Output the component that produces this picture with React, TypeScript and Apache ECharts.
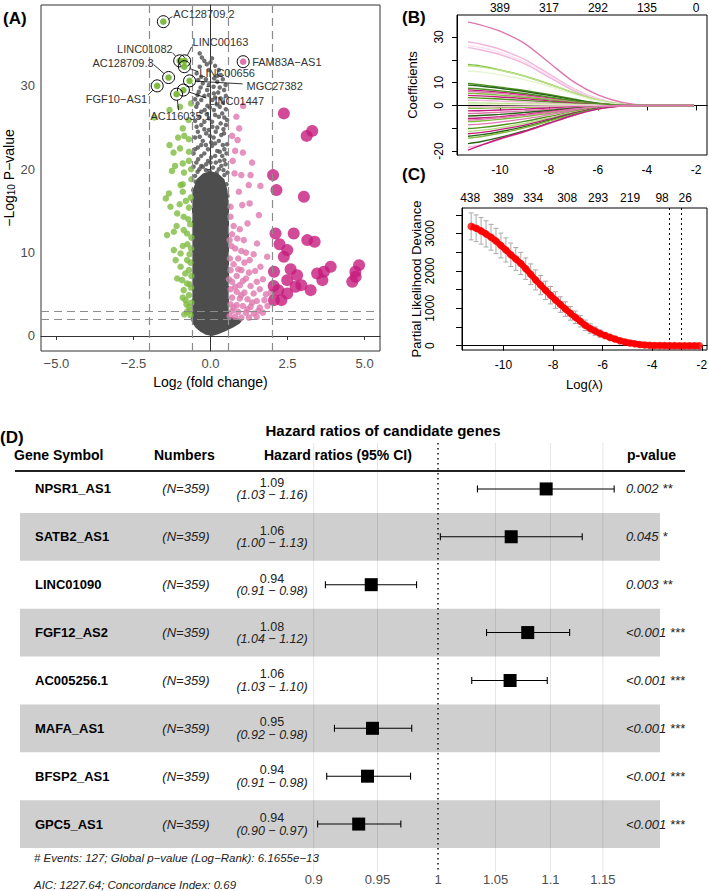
import React, { useEffect, useRef } from 'react';
import * as echarts from 'echarts';

const FONT = '"Liberation Sans", Arial, Helvetica, sans-serif';
const MINUS = '\u2212';

// ---------------- Panel A: volcano ----------------
const CORE_ENVELOPE: [number, number][] = [
  [-0.6, 2.5], [-0.64, 2.0], [-0.58, 1.5], [-0.48, 1.0], [-0.33, 0.5], [-0.15, 0.15], [0.05, 0.0],
  [0.25, 0.2], [0.5, 0.6], [0.75, 1.05], [0.95, 1.5], [1.05, 1.95], [0.85, 2.15], [0.6, 2.3],
  [0.6, 15.5], [0.55, 17.5], [0.45, 18.8], [0.25, 19.5], [0.0, 19.8], [-0.25, 19.5], [-0.45, 18.8],
  [-0.57, 17.5], [-0.6, 15.5],
];
const GRAY_PTS: [number, number][] = [
  [-0.35, 33.9], [-0.2, 33.0], [-0.35, 32.3], [-0.05, 31.9], [0.27, 31.9], [-0.3, 31.1], [0.12, 30.9],
  [0.33, 31.3], [-0.25, 30.3], [-0.05, 30.1], [0.22, 30.5], [0.49, 30.1], [-0.38, 29.3], [-0.11, 29.5],
  [0.11, 29.1], [0.44, 29.5], [-0.3, 28.3], [0.06, 28.3], [0.33, 28.5], [-0.46, 27.5], [-0.19, 27.1],
  [0.11, 27.1], [0.38, 26.7], [-0.36, 26.3], [-0.05, 26.1], [0.27, 26.3], [0.54, 25.9], [-0.3, 25.3],
  [0.06, 25.1], [0.33, 25.5], [-0.41, 24.5], [-0.14, 24.3], [0.17, 24.5], [0.44, 24.3], [-0.25, 23.4],
  [0.02, 23.2], [0.27, 23.4], [0.54, 23.0], [-0.41, 22.6], [-0.08, 22.4], [0.22, 22.2], [-0.3, 21.6],
  [0.02, 21.4], [0.38, 21.6], [-0.46, 20.8], [-0.14, 20.6], [0.17, 20.8], [0.49, 20.6], [-0.36, 20.0],
  [-0.03, 19.8], [0.27, 20.0], [-0.5, 19.2], [0.45, 19.3], [-0.2, 28.8], [0.2, 27.8], [-0.1, 27.6],
  [0.5, 27.2], [-0.5, 25.8], [0.15, 26.5], [-0.2, 25.7], [0.42, 24.8], [-0.05, 24.7], [-0.5, 23.8],
  [0.1, 23.8], [-0.15, 22.9], [0.45, 22.4], [-0.55, 21.9], [0.3, 21.0], [-0.25, 20.3], [0.08, 20.2],
  [0.55, 19.6], [-0.48, 18.5], [0.52, 18.2], [-0.56, 17.5], [0.55, 16.8], [0.56, 15.5], [-0.57, 16.2],
  [0.0, 32.8], [0.15, 32.4], [-0.45, 31.5], [0.4, 28.0], [-0.42, 28.9], [0.3, 29.8],
  [-0.28, 33.4], [-0.12, 32.6], [0.05, 33.3], [0.22, 31.2], [-0.4, 30.7], [0.4, 30.8], [-0.15, 30.8],
  [0.1, 29.9], [-0.32, 29.8], [0.25, 29.2], [-0.05, 28.9], [0.5, 28.8], [-0.5, 28.4], [0.15, 28.6],
  [-0.42, 27.9], [-0.02, 27.4], [0.3, 27.5], [-0.3, 26.9], [0.45, 26.2], [-0.12, 26.6], [0.05, 25.7],
  [-0.45, 25.1], [0.22, 25.0], [0.5, 25.3], [-0.2, 24.8], [0.35, 24.1], [-0.35, 23.9], [-0.02, 24.0],
  [0.15, 23.1], [-0.3, 22.9], [0.4, 22.9], [-0.5, 22.4], [0.05, 22.8], [0.3, 22.1], [-0.2, 21.9],
  [0.52, 21.9], [-0.4, 21.2], [0.15, 21.6], [-0.08, 21.0], [0.45, 21.1], [-0.3, 20.4], [0.35, 20.4],
  [-0.55, 20.3], [0.0, 20.8], [-0.15, 19.9], [0.2, 19.6], [0.42, 19.9], [-0.42, 19.7],
];
const GREEN_PTS: [number, number][] = [
  [-1.82, 26.2], [-1.33, 27.1], [-0.99, 27.5], [-0.63, 27.9], [-0.9, 24.9], [-0.71, 25.9], [-0.85, 24.0],
  [-0.7, 23.6], [-1.33, 22.9], [-0.99, 22.5], [-0.7, 22.1], [-1.2, 22.0], [-0.9, 20.7], [-0.7, 21.0],
  [-1.15, 20.4], [-0.86, 19.6], [-0.63, 20.0], [-1.35, 17.1], [-0.97, 18.1], [-0.9, 18.2], [-0.9, 17.3],
  [-1.3, 15.5], [-1.08, 14.7], [-0.87, 14.3], [-0.7, 15.4], [-1.41, 12.1], [-1.19, 12.5], [-0.87, 12.7],
  [-0.76, 12.3], [-1.19, 10.3], [-0.97, 9.9], [-1.13, 9.1], [-0.76, 9.1], [-0.97, 8.3], [-0.7, 7.9],
  [-1.08, 6.9], [-0.92, 6.7], [-0.76, 6.3], [-0.87, 5.5], [-0.7, 4.9], [-0.81, 4.3], [-0.7, 3.5],
  [-0.76, 2.9], [-0.65, 2.5], [-0.62, 4.0], [-0.63, 5.8], [-0.62, 7.2], [-0.65, 8.8], [-0.63, 10.5],
  [-0.62, 11.8], [-0.66, 13.4], [-0.64, 16.6], [-0.62, 18.8], [-0.8, 16.2], [-1.0, 15.8], [-1.1, 13.2],
  [-0.75, 11.0], [-0.9, 10.8], [-0.82, 7.5], [-0.68, 6.2], [-0.9, 4.6], [-0.66, 3.1], [-0.78, 3.8],
  [-1.25, 19.8], [-1.05, 23.8], [-1.45, 16.5], [-0.68, 9.8], [-0.72, 14.0], [-0.85, 2.6],
];
const PINK_PTS: [number, number][] = [
  [1.06, 27.6], [0.84, 26.3], [0.93, 24.9], [0.7, 24.0], [0.88, 23.5], [0.8, 22.2], [1.05, 22.0],
  [0.72, 21.0], [1.35, 20.8], [0.78, 19.5], [1.0, 19.3], [1.3, 19.3], [0.92, 17.3], [1.24, 18.1],
  [1.62, 18.0], [1.03, 15.7], [1.27, 15.9], [1.57, 14.5], [0.65, 15.5], [0.65, 14.3], [0.75, 13.2],
  [0.87, 11.7], [1.08, 11.5], [1.51, 11.1], [1.84, 9.5], [1.62, 8.3], [1.0, 10.2], [1.27, 9.1],
  [0.95, 12.8], [1.2, 13.5], [0.7, 12.2], [0.8, 10.5], [1.15, 10.0], [1.4, 9.8], [0.68, 10.8],
  [0.9, 9.3], [1.1, 8.8], [1.45, 7.8], [0.75, 8.6], [1.0, 7.9], [1.25, 7.6], [0.65, 7.9], [0.85, 7.2],
  [1.15, 6.9], [1.5, 6.5], [1.7, 6.8], [0.7, 6.5], [0.95, 6.1], [1.3, 6.0], [1.6, 5.6], [0.65, 5.6],
  [0.85, 5.3], [1.1, 5.2], [1.4, 5.1], [1.8, 5.0], [1.95, 5.2], [0.7, 4.6], [0.95, 4.5], [1.2, 4.4],
  [1.5, 4.2], [1.75, 4.3], [0.65, 3.8], [0.85, 3.7], [1.05, 3.6], [1.3, 3.5], [1.6, 3.4], [1.85, 3.6],
  [0.7, 3.0], [0.9, 2.9], [1.15, 2.8], [1.4, 2.7], [1.7, 2.8], [0.62, 2.4], [0.8, 2.3], [1.0, 2.2],
  [1.25, 2.2], [1.5, 2.3], [0.75, 3.4], [1.2, 3.2], [1.0, 4.9], [1.35, 4.0], [0.6, 6.8], [1.05, 6.6],
  [0.8, 5.9], [0.63, 9.3], [0.62, 11.5], [1.55, 3.0], [0.9, 8.0],
];
const MAGENTA_PTS: [number, number][] = [
  [2.38, 26.7], [3.3, 24.6], [3.12, 24.0], [2.03, 19.3], [2.14, 17.5], [3.03, 16.7], [2.11, 12.3],
  [2.7, 12.3], [3.14, 11.5], [3.38, 11.3], [2.24, 11.0], [2.49, 10.3], [2.38, 9.5], [2.06, 7.7],
  [2.49, 6.7], [2.81, 7.3], [2.76, 5.9], [2.49, 5.1], [3.25, 5.5], [3.46, 7.5], [3.68, 7.7], [3.9, 8.3],
  [3.63, 6.7], [4.82, 8.5], [4.7, 7.7], [4.71, 7.1], [4.6, 6.5], [2.2, 5.5], [2.06, 4.3], [2.3, 4.3],
  [2.05, 6.0], [2.6, 8.0], [2.95, 6.1],
];
const LABEL_GENES = ['AC128709.2', 'LINC01082', 'LINC00163', 'AC128709.3', 'FAM83A\u2212AS1', 'LINC00656', 'MGC27382', 'FGF10\u2212AS1', 'LINC01447', 'AC116035.1'];
const LABEL_X = [-1.53, -1.0, -0.84, -1.36, 1.06, -0.85, -0.68, -1.73, -0.88, -1.1];
const LABEL_Y = [37.7, 33.0, 33.0, 31.0, 32.9, 32.3, 30.6, 30.0, 29.5, 29.0];
const A_VLINES = [-2, -0.585, 0.585, 2];
const A_HLINES = [2, 3];
const A_XTICKS = [-5, -2.5, 0, 2.5, 5];
const A_YTICKS = [0, 10, 20, 30];

// label placement (pixels relative to point)
const LABEL_LAYOUT = [
  { dx: 10, dy: -8, align: 'left', sx: 9, sy: -5 },
  { dx: -7, dy: -12, align: 'right', sx: -7, sy: -8 },
  { dx: 8, dy: -19, align: 'left', sx: 7, sy: -14 },
  { dx: -15, dy: -15, align: 'right', sx: -15, sy: -13 },
  { dx: 9, dy: 0, align: 'left', sx: 0, sy: 0 },
  { dx: 15, dy: 6, align: 'left', sx: 14, sy: 5 },
  { dx: 57, dy: 5, align: 'left', sx: 53, sy: 3 },
  { dx: -10, dy: 13, align: 'right', sx: -9, sy: 9 },
  { dx: 25, dy: 11, align: 'left', sx: 23, sy: 8 },
  { dx: 4, dy: 22, align: 'center', sx: 2, sy: 16 },
];

// ---------------- Panel B: coefficient paths ----------------
const B_LAMBDA = [-11.3, -10.8, -10, -9, -8, -7, -6, -5, -4, -2.1];
const B_PATHS: number[][] = [
  [36.5, 35.3, 32.5, 27.2, 18.8, 10.4, 4.6, 1.3, 0.1, 0],
  [27.8, 26.9, 24.6, 20.2, 13.8, 7.4, 3.0, 0.6, 0, 0],
  [26.2, 25.4, 23.2, 19.1, 13.1, 7.0, 2.7, 0.5, 0, 0],
  [25.3, 24.4, 22.3, 18.3, 12.4, 6.5, 2.4, 0.4, 0, 0],
  [17.9, 17.3, 15.6, 12.9, 9.4, 5.5, 2.2, 0.4, 0, 0],
  [17.4, 16.9, 15.4, 12.8, 9.4, 5.7, 2.4, 0.5, 0, 0],
  [15.1, 14.7, 13.4, 11.3, 8.4, 5.0, 2.0, 0.3, 0, 0],
  [9.6, 9.1, 8.0, 6.6, 4.8, 2.8, 1.0, 0.1, 0, 0],
  [8.9, 8.5, 7.5, 6.1, 4.4, 2.5, 0.9, 0.1, 0, 0],
  [6.8, 6.5, 5.8, 4.7, 3.3, 1.9, 0.7, 0.1, 0, 0],
  [6.1, 5.9, 5.3, 4.2, 3.0, 1.7, 0.6, 0.1, 0, 0],
  [5.3, 5.1, 4.5, 3.6, 2.5, 1.4, 0.5, 0, 0, 0],
  [4.4, 4.2, 3.7, 3.0, 2.0, 1.1, 0.4, 0, 0, 0],
  [3.4, 3.2, 2.8, 2.2, 1.5, 0.8, 0.3, 0, 0, 0],
  [2.3, 2.2, 1.9, 1.5, 1.0, 0.5, 0.2, 0, 0, 0],
  [1.1, 1.0, 0.9, 0.7, 0.5, 0.3, 0.1, 0, 0, 0],
  [-1.2, -1.2, -1.0, -0.8, -0.6, -0.3, -0.1, 0, 0, 0],
  [-2.4, -2.3, -2.0, -1.6, -1.1, -0.6, -0.2, 0, 0, 0],
  [-3.5, -3.4, -3.0, -2.4, -1.7, -0.9, -0.3, 0, 0, 0],
  [-4.6, -4.4, -3.9, -3.1, -2.2, -1.2, -0.4, 0, 0, 0],
  [-5.7, -5.5, -4.9, -3.9, -2.7, -1.5, -0.5, 0, 0, 0],
  [-7.1, -6.8, -6.1, -4.9, -3.4, -1.9, -0.6, 0, 0, 0],
  [-8.5, -8.2, -7.3, -5.9, -4.1, -2.2, -0.8, -0.1, 0, 0],
  [-10.1, -9.7, -8.7, -7.0, -4.9, -2.7, -0.9, -0.1, 0, 0],
  [-11.4, -10.9, -9.8, -7.9, -5.5, -3.0, -1.1, -0.1, 0, 0],
  [-12.4, -11.9, -10.6, -8.6, -6.0, -3.3, -1.2, -0.2, 0, 0],
  [-13.5, -12.9, -11.5, -9.3, -6.5, -3.6, -1.3, -0.2, 0, 0],
  [-14.3, -13.7, -12.2, -9.8, -6.9, -3.8, -1.4, -0.2, 0, 0],
  [-16.7, -15.9, -14.0, -11.2, -7.8, -4.3, -1.5, -0.2, 0, 0],
  [-18.4, -17.3, -14.9, -11.7, -8.0, -4.4, -1.6, -0.3, 0, 0],
  [-19.6, -17.6, -14.6, -11.4, -7.8, -4.3, -1.6, -0.3, 0, 0],
  [0.5, 0.5, 0.4, 0.3, 0.2, 0.1, 0, 0, 0, 0],
  [-0.6, -0.6, -0.5, -0.4, -0.3, -0.1, 0, 0, 0, 0],
  [7.5, 7.2, 6.4, 5.2, 3.7, 2.1, 0.8, 0.1, 0, 0],
  [-6.4, -6.1, -5.4, -4.3, -3.0, -1.6, -0.5, 0, 0, 0],
];
const B_COLORS = [
  '#DE77AE', '#F1B6DA', '#FDE0EF', '#F1B6DA', '#7FBC41', '#B8E186', '#E6F5D0', '#4D9221', '#276419',
  '#C51B7D', '#DE77AE', '#7FBC41', '#C51B7D', '#4D9221', '#F1B6DA', '#B8E186', '#7FBC41', '#C51B7D',
  '#DE77AE', '#276419', '#C51B7D', '#7FBC41', '#DE77AE', '#4D9221', '#B8E186', '#C51B7D', '#276419',
  '#7FBC41', '#276419', '#F1B6DA', '#C51B7D', '#E6F5D0', '#F1B6DA', '#4D9221', '#DE77AE',
];
const B_XTICKS = [-10, -8, -6, -4, -2];
const B_TOP_LABELS = ['389', '317', '292', '135', '0'];
const B_YTICKS = [-20, -10, 0, 10, 20, 30];
const B_YLABELS = [-20, 0, 10, 30];

// ---------------- Panel C: CV deviance ----------------
const C_LAMBDA = [-11.3, -11.1, -10.9, -10.7, -10.5, -10.3, -10.1, -9.9, -9.7, -9.5, -9.3, -9.1, -8.9, -8.7, -8.5, -8.3, -8.1, -7.9, -7.7, -7.5, -7.3, -7.1, -6.9, -6.7, -6.5, -6.3, -6.1, -5.9, -5.7, -5.5, -5.3, -5.1, -4.9, -4.7, -4.5, -4.3, -4.1, -3.9, -3.7, -3.5, -3.3, -3.1, -2.9, -2.7, -2.5, -2.3, -2.1];
const C_DEV = [3190, 3140, 3070, 2990, 2900, 2800, 2680, 2560, 2430, 2320, 2200, 2060, 1910, 1760, 1620, 1480, 1350, 1220, 1100, 980, 865, 760, 655, 545, 460, 390, 325, 272, 222, 178, 134, 100, 72, 50, 33, 20, 11, 6, 3, 2, 1, 1, 0, 0, 0, 0, 0];
const C_SD = [360, 358, 355, 350, 345, 338, 330, 322, 314, 305, 296, 287, 277, 267, 256, 245, 233, 221, 208, 195, 182, 168, 154, 140, 126, 112, 98, 85, 72, 60, 48, 38, 29, 21, 15, 10, 7, 5, 3, 2, 2, 1, 1, 1, 1, 1, 1];
const C_TOP_AT = [-11.34, -10, -8.8, -7.43, -6.18, -4.89, -3.6, -2.67];
const C_TOP_LABELS = ['438', '389', '334', '308', '293', '219', '98', '26'];
const C_VLINES = [-3.31, -2.83];
const C_YTICKS = [0, 500, 1000, 1500, 2000, 2500, 3000, 3500];
const C_YLABELS = [0, 1000, 2000, 3000];

// ---------------- Panel D: forest ----------------
const GENES = ['NPSR1_AS1', 'SATB2_AS1', 'LINC01090', 'FGF12_AS2', 'AC005256.1', 'MAFA_AS1', 'BFSP2_AS1', 'GPC5_AS1'];
const N_LABELS = ['(N=359)', '(N=359)', '(N=359)', '(N=359)', '(N=359)', '(N=359)', '(N=359)', '(N=359)'];
const HR = [1.096, 1.064, 0.945, 1.079, 1.063, 0.946, 0.942, 0.935];
const HR_LO = [1.034, 1.002, 0.909, 1.042, 1.029, 0.916, 0.910, 0.903];
const HR_HI = [1.161, 1.130, 0.982, 1.118, 1.097, 0.978, 0.977, 0.969];
const HR_TEXT = ['1.09', '1.06', '0.94', '1.08', '1.06', '0.95', '0.94', '0.94'];
const CI_TEXT = ['(1.03 \u2212 1.16)', '(1.00 \u2212 1.13)', '(0.91 \u2212 0.98)', '(1.04 \u2212 1.12)', '(1.03 \u2212 1.10)', '(0.92 \u2212 0.98)', '(0.91 \u2212 0.98)', '(0.90 \u2212 0.97)'];
const P_TEXT = ['0.002 **', '0.045 *', '0.003 **', '<0.001 ***', '<0.001 ***', '<0.001 ***', '<0.001 ***', '<0.001 ***'];
const D_TICKS = [0.9, 0.95, 1, 1.05, 1.1, 1.15];
const D_TICK_LABELS = ['0.9', '0.95', '1', '1.05', '1.1', '1.15'];

// layout constants for D
const D_LEFT = 20;
const D_WIDTH = 640;
const D_PX_PER_LN = 1180;
const D_X_ONE = 438;
const D_MIN = (D_LEFT - D_X_ONE) / D_PX_PER_LN;
const D_MAX = (D_LEFT + D_WIDTH - D_X_ONE) / D_PX_PER_LN;

const nearestLabel = (vals: number[], labels: string[]) => (v: number) => {
  let best = 0;
  for (let i = 1; i < vals.length; i++) if (Math.abs(vals[i] - v) < Math.abs(vals[best] - v)) best = i;
  return labels[best];
};

function buildOption(): any {
  const txt = (text: string, x: number, y: number, o: any = {}) => ({
    type: 'text', x, y, z: 10,
    style: { text, fontFamily: FONT, fontSize: 13, fill: '#000', align: 'left', verticalAlign: 'middle', ...o },
  });
  const baseAxis = { splitLine: { show: false } };
  const rAxisStyle = { lineStyle: { color: '#000', width: 1 } };

  const xAxis: any[] = [
    { // 0 A
      ...baseAxis, type: 'value', gridIndex: 0, min: -5.5, max: 5.5,
      axisLine: { show: true, lineStyle: { color: '#333' } },
      axisTick: { show: true, length: 4, lineStyle: { color: '#333' }, customValues: A_XTICKS },
      axisLabel: { customValues: A_XTICKS, margin: 6, fontSize: 13, color: '#4D4D4D', fontFamily: FONT, formatter: (v: number) => v.toFixed(1).replace('-', MINUS) },
      name: '{a|Log}{s|2}{a| (fold change)}', nameLocation: 'middle', nameGap: 23,
      nameTextStyle: { rich: { a: { fontSize: 14, fontFamily: FONT, color: '#000', lineHeight: 16 }, s: { fontSize: 10, fontFamily: FONT, color: '#000', lineHeight: 9, verticalAlign: 'bottom' } } },
    },
    { // 1 B bottom
      ...baseAxis, type: 'value', gridIndex: 1, min: -11.75, max: -1.55,
      axisLine: { show: true, ...rAxisStyle },
      axisTick: { show: true, length: 5, customValues: B_XTICKS, ...rAxisStyle },
      axisLabel: { customValues: B_XTICKS, margin: 9, fontSize: 12, color: '#000', fontFamily: FONT, formatter: (v: number) => String(v) },
    },
    { // 2 B top
      ...baseAxis, type: 'value', gridIndex: 1, position: 'top', min: -11.75, max: -1.55,
      axisLine: { show: false }, axisTick: { show: false },
      axisLabel: { customValues: B_XTICKS, margin: 1, fontSize: 12, color: '#000', fontFamily: FONT, formatter: nearestLabel(B_XTICKS, B_TOP_LABELS) },
    },
    { // 3 C bottom
      ...baseAxis, type: 'value', gridIndex: 2, min: -11.67, max: -1.79,
      axisLine: { show: true, ...rAxisStyle },
      axisTick: { show: true, length: 5, customValues: B_XTICKS, ...rAxisStyle },
      axisLabel: { customValues: B_XTICKS, margin: 9, fontSize: 12, color: '#000', fontFamily: FONT, formatter: (v: number) => String(v) },
      name: 'Log(\u03bb)', nameLocation: 'middle', nameGap: 28,
      nameTextStyle: { fontSize: 13, fontFamily: FONT, color: '#000' },
    },
    { // 4 C top
      ...baseAxis, type: 'value', gridIndex: 2, position: 'top', min: -11.67, max: -1.79,
      axisLine: { show: false }, axisTick: { show: false },
      axisLabel: { customValues: C_TOP_AT, margin: 4, fontSize: 12, color: '#000', fontFamily: FONT, formatter: nearestLabel(C_TOP_AT, C_TOP_LABELS) },
    },
    { // 5 D CI
      ...baseAxis, type: 'value', gridIndex: 3, min: D_MIN, max: D_MAX, show: false,
    },
    { // 6 D axis
      ...baseAxis, type: 'value', gridIndex: 4, min: D_MIN, max: D_MAX,
      axisLine: { show: false }, axisTick: { show: false },
      axisLabel: { customValues: D_TICKS.map((v) => Math.log(v)), margin: 1, fontSize: 13, color: '#4D4D4D', fontFamily: FONT, formatter: nearestLabel(D_TICKS.map((v) => Math.log(v)), D_TICK_LABELS) },
    },
  ];

  const yAxis: any[] = [
    { // 0 A
      ...baseAxis, type: 'value', gridIndex: 0, min: -1.8, max: 39.7,
      axisLine: { show: true, lineStyle: { color: '#333' } },
      axisTick: { show: true, length: 4, lineStyle: { color: '#333' }, customValues: A_YTICKS },
      axisLabel: { customValues: A_YTICKS, margin: 6, fontSize: 13, color: '#4D4D4D', fontFamily: FONT },
      name: '{a|' + MINUS + 'Log}{s|10}{a| P' + MINUS + 'value}', nameLocation: 'middle', nameGap: 21, nameRotate: 90,
      nameTextStyle: { rich: { a: { fontSize: 14, fontFamily: FONT, color: '#000', lineHeight: 16 }, s: { fontSize: 10, fontFamily: FONT, color: '#000', lineHeight: 9, verticalAlign: 'bottom' } } },
    },
    { // 1 B
      ...baseAxis, type: 'value', gridIndex: 1, min: -21.7, max: 39.6,
      axisLine: { show: true, ...rAxisStyle },
      axisTick: { show: true, length: 5, customValues: B_YTICKS, ...rAxisStyle },
      axisLabel: { customValues: B_YLABELS, margin: 12, rotate: 90, fontSize: 12, color: '#000', fontFamily: FONT, formatter: (v: number) => String(v) },
      name: 'Coefficients', nameLocation: 'middle', nameGap: 38, nameRotate: 90,
      nameTextStyle: { fontSize: 13, fontFamily: FONT, color: '#000' },
    },
    { // 2 C
      ...baseAxis, type: 'value', gridIndex: 2, min: -115, max: 3682,
      axisLine: { show: true, ...rAxisStyle },
      axisTick: { show: true, length: 6, customValues: C_YTICKS, ...rAxisStyle },
      axisLabel: { customValues: C_YLABELS, margin: 26, rotate: 90, fontSize: 12, color: '#000', fontFamily: FONT, formatter: (v: number) => String(v) },
      name: 'Partial Likelihood Deviance', nameLocation: 'middle', nameGap: 38, nameRotate: 90,
      nameTextStyle: { fontSize: 13, fontFamily: FONT, color: '#000' },
    },
    { // 3 D category
      type: 'category', gridIndex: 3, data: GENES, inverse: true,
      axisLine: { show: false }, axisTick: { show: false }, axisLabel: { show: false },
      splitLine: { show: false },
      splitArea: { show: true, areaStyle: { color: ['rgba(255,255,255,0)', '#CFCFCF'] } },
    },
    { // 4 D gridline helper
      type: 'value', gridIndex: 4, min: 0, max: 1, show: false, splitLine: { show: false },
    },
  ];

  const series: any[] = [];

  // A: dense core
  series.push({
    type: 'custom', xAxisIndex: 0, yAxisIndex: 0, data: [[0, 0]], z: 1, silent: true,
    renderItem: (_p: any, api: any) => ({
      type: 'polygon',
      shape: { points: CORE_ENVELOPE.map((pt) => api.coord(pt)) },
      style: { fill: '#4D4D4D' },
    }),
  });
  series.push({ type: 'scatter', xAxisIndex: 0, yAxisIndex: 0, data: GRAY_PTS, symbolSize: 4.5, itemStyle: { color: '#4D4D4D' }, z: 2 });
  series.push({ type: 'scatter', xAxisIndex: 0, yAxisIndex: 0, data: GREEN_PTS, symbolSize: 6.5, itemStyle: { color: '#7FBC41' }, z: 2 });
  series.push({ type: 'scatter', xAxisIndex: 0, yAxisIndex: 0, data: PINK_PTS, symbolSize: 6.5, itemStyle: { color: '#DE77AE' }, z: 2 });
  series.push({ type: 'scatter', xAxisIndex: 0, yAxisIndex: 0, data: MAGENTA_PTS, symbolSize: 12, itemStyle: { color: '#C51B7D' }, z: 2 });
  series.push({
    type: 'scatter', xAxisIndex: 0, yAxisIndex: 0, data: [], z: 4,
    markLine: {
      silent: true, symbol: 'none', label: { show: false },
      lineStyle: { color: '#8C8C8C', width: 1.2, type: [8, 5] },
      data: [...A_VLINES.map((v) => ({ xAxis: v })), ...A_HLINES.map((v) => ({ yAxis: v }))],
    },
  });
  series.push({
    type: 'custom', xAxisIndex: 0, yAxisIndex: 0, z: 6, clip: false,
    data: LABEL_X.map((x, i) => [x, LABEL_Y[i]]),
    renderItem: (params: any, api: any) => {
      const i = params.dataIndex;
      const L = LABEL_LAYOUT[i];
      const p = api.coord([api.value(0), api.value(1)]);
      const children: any[] = [
        { type: 'circle', shape: { cx: p[0], cy: p[1], r: 3.3 }, style: { fill: api.value(0) > 0 ? '#DE77AE' : '#7FBC41' } },
        { type: 'circle', shape: { cx: p[0], cy: p[1], r: 6 }, style: { fill: 'none', stroke: '#000', lineWidth: 1 } },
      ];
      const len = Math.hypot(L.sx, L.sy);
      if (len > 7) {
        children.push({
          type: 'line',
          shape: { x1: p[0] + (L.sx / len) * 6, y1: p[1] + (L.sy / len) * 6, x2: p[0] + L.sx, y2: p[1] + L.sy },
          style: { stroke: '#000', lineWidth: 0.8 },
        });
      }
      children.push({
        type: 'text', x: p[0] + L.dx, y: p[1] + L.dy,
        style: { text: LABEL_GENES[i], fontFamily: FONT, fontSize: 11, fill: '#333', align: L.align, verticalAlign: 'middle' },
      });
      return { type: 'group', children };
    },
  });

  // B: coefficient paths
  B_PATHS.forEach((path, k) => {
    series.push({
      type: 'line', xAxisIndex: 1, yAxisIndex: 1, showSymbol: false, smooth: 0.3, silent: true,
      data: B_LAMBDA.map((x, j) => [x, path[j]]),
      lineStyle: { color: B_COLORS[k], width: 1.4 },
    });
  });

  // C: error bars + points
  series.push({
    type: 'custom', xAxisIndex: 3, yAxisIndex: 2, z: 2, silent: true,
    data: C_LAMBDA.map((x, i) => [x, C_DEV[i] - C_SD[i], C_DEV[i] + C_SD[i]]),
    renderItem: (_p: any, api: any) => {
      const lo = api.coord([api.value(0), api.value(1)]);
      const hi = api.coord([api.value(0), api.value(2)]);
      const st = { stroke: '#A9A9A9', lineWidth: 1 };
      return {
        type: 'group', children: [
          { type: 'line', shape: { x1: lo[0], y1: lo[1], x2: hi[0], y2: hi[1] }, style: st },
          { type: 'line', shape: { x1: lo[0] - 2.5, y1: lo[1], x2: lo[0] + 2.5, y2: lo[1] }, style: st },
          { type: 'line', shape: { x1: hi[0] - 2.5, y1: hi[1], x2: hi[0] + 2.5, y2: hi[1] }, style: st },
        ],
      };
    },
  });
  series.push({
    type: 'line', xAxisIndex: 3, yAxisIndex: 2, z: 3, showSymbol: false, silent: true,
    data: C_LAMBDA.map((x, i) => [x, C_DEV[i]]),
    lineStyle: { color: '#FF0000', width: 6 },
  });
  series.push({
    type: 'scatter', xAxisIndex: 3, yAxisIndex: 2, z: 3, symbolSize: 7.5,
    data: C_LAMBDA.map((x, i) => [x, C_DEV[i]]),
    itemStyle: { color: '#FF0000' },
    markLine: {
      silent: true, symbol: 'none', label: { show: false },
      lineStyle: { color: '#000', width: 1, type: [2, 3] },
      data: C_VLINES.map((v) => ({ xAxis: v })),
    },
  });

  // D: gridlines
  series.push({
    type: 'custom', xAxisIndex: 6, yAxisIndex: 4, z: 1, silent: true, clip: false,
    data: D_TICKS.map((v) => [Math.log(v)]),
    encode: { x: 0 },
    renderItem: (params: any, api: any) => {
      const v = api.value(0);
      const top = api.coord([v, 1]);
      const bot = api.coord([v, 0]);
      const isRef = D_TICKS[params.dataIndex] === 1;
      return {
        type: 'line', shape: { x1: top[0], y1: top[1], x2: bot[0], y2: bot[1] },
        style: isRef ? { stroke: '#000', lineWidth: 1.4, lineDash: [1.5, 3.5] } : { stroke: 'rgba(0,0,0,0.1)', lineWidth: 1 },
      };
    },
  });
  // D: CI
  series.push({
    type: 'custom', xAxisIndex: 5, yAxisIndex: 3, z: 3, silent: true, clip: false,
    data: HR.map((v, i) => [Math.log(HR_LO[i]), Math.log(v), Math.log(HR_HI[i]), i]),
    encode: { x: [0, 1, 2], y: 3 },
    renderItem: (_p: any, api: any) => {
      const i = api.value(3);
      const lo = api.coord([api.value(0), i]);
      const hr = api.coord([api.value(1), i]);
      const hi = api.coord([api.value(2), i]);
      const y = hr[1];
      const st = { stroke: '#000', lineWidth: 1.1 };
      return {
        type: 'group', children: [
          { type: 'line', shape: { x1: lo[0], y1: y, x2: hi[0], y2: y }, style: st },
          { type: 'line', shape: { x1: lo[0], y1: y - 3.5, x2: lo[0], y2: y + 3.5 }, style: st },
          { type: 'line', shape: { x1: hi[0], y1: y - 3.5, x2: hi[0], y2: y + 3.5 }, style: st },
          { type: 'rect', shape: { x: hr[0] - 6.5, y: y - 6.5, width: 13, height: 13 }, style: { fill: '#000' } },
        ],
      };
    },
  });
  // D: row texts
  series.push({
    type: 'custom', xAxisIndex: 5, yAxisIndex: 3, z: 4, silent: true, clip: false,
    data: GENES.map((_g, i) => [0, i]),
    encode: { x: 0, y: 1 },
    renderItem: (params: any, api: any) => {
      const i = params.dataIndex;
      const y = api.coord([0, i])[1];
      const t = (text: string, x: number, yy: number, o: any) => ({
        type: 'text', x, y: yy,
        style: { text, fontFamily: FONT, fontSize: 13, fill: '#000', align: 'left', verticalAlign: 'middle', ...o },
      });
      return {
        type: 'group', children: [
          t(GENES[i], 35, y, { fontWeight: 'bold' }),
          t(N_LABELS[i], 186, y, { fontStyle: 'italic', align: 'center', fill: '#222' }),
          t(HR_TEXT[i], 272, y - 6, { fontSize: 12.5, align: 'center', fill: '#222' }),
          t(CI_TEXT[i], 272, y + 6.5, { fontSize: 12.5, fontStyle: 'italic', align: 'center', fill: '#222' }),
          t(P_TEXT[i], 626, y, { fontStyle: 'italic', fill: '#222' }),
        ],
      };
    },
  });

  const gridBase = { containLabel: false, outerBoundsMode: 'none' };
  return {
    animation: false,
    backgroundColor: '#fff',
    textStyle: { fontFamily: FONT },
    grid: [
      { ...gridBase, left: 41, top: 5, width: 339, height: 346, show: true, borderColor: '#333', borderWidth: 1 },
      { ...gridBase, left: 457, top: 15, width: 250, height: 140, show: true, borderColor: '#000', borderWidth: 1 },
      { ...gridBase, left: 462, top: 208, width: 245, height: 142, show: true, borderColor: '#000', borderWidth: 1 },
      { ...gridBase, left: D_LEFT, top: 465, width: D_WIDTH, height: 383 },
      { ...gridBase, left: D_LEFT, top: 443, width: D_WIDTH, height: 429 },
    ],
    xAxis, yAxis, series,
    graphic: {
      elements: [
        txt('(A)', 3, 18, { fontSize: 17, fontWeight: 'bold' }),
        txt('(B)', 402, 17, { fontSize: 17, fontWeight: 'bold' }),
        txt('(C)', 402, 174, { fontSize: 17, fontWeight: 'bold' }),
        txt('(D)', 0, 437, { fontSize: 17, fontWeight: 'bold' }),
        txt('Hazard ratios of candidate genes', 383, 430, { fontSize: 15, fontWeight: 'bold', align: 'center' }),
        txt('Gene Symbol', 14, 455, { fontSize: 14, fontWeight: 'bold' }),
        txt('Numbers', 154, 455, { fontSize: 14, fontWeight: 'bold' }),
        txt('Hazard ratios (95% CI)', 264, 455, { fontSize: 14, fontWeight: 'bold' }),
        txt('p-value', 676, 455, { fontSize: 14, fontWeight: 'bold', align: 'right' }),
        { type: 'line', z: 10, shape: { x1: 15, y1: 471, x2: 685, y2: 471 }, style: { stroke: '#222', lineWidth: 2 } },
        txt('# Events: 127; Global p\u2212value (Log\u2212Rank): 6.1655e\u221213', 34, 858, { fontSize: 11.5, fontStyle: 'italic', fill: '#222' }),
        txt('AIC: 1227.64; Concordance Index: 0.69', 34, 885, { fontSize: 11.5, fontStyle: 'italic', fill: '#222' }),
      ],
    },
  };
}

export default function App() {
  const ref = useRef<HTMLDivElement>(null);
  useEffect(() => {
    if (!ref.current) return;
    const chart = echarts.init(ref.current, undefined, { renderer: 'svg' });
    chart.setOption(buildOption());
    return () => chart.dispose();
  }, []);
  return <div ref={ref} style={{ position: 'absolute', left: 0, top: 0, width: 709, height: 891, background: '#fff' }} />;
}
